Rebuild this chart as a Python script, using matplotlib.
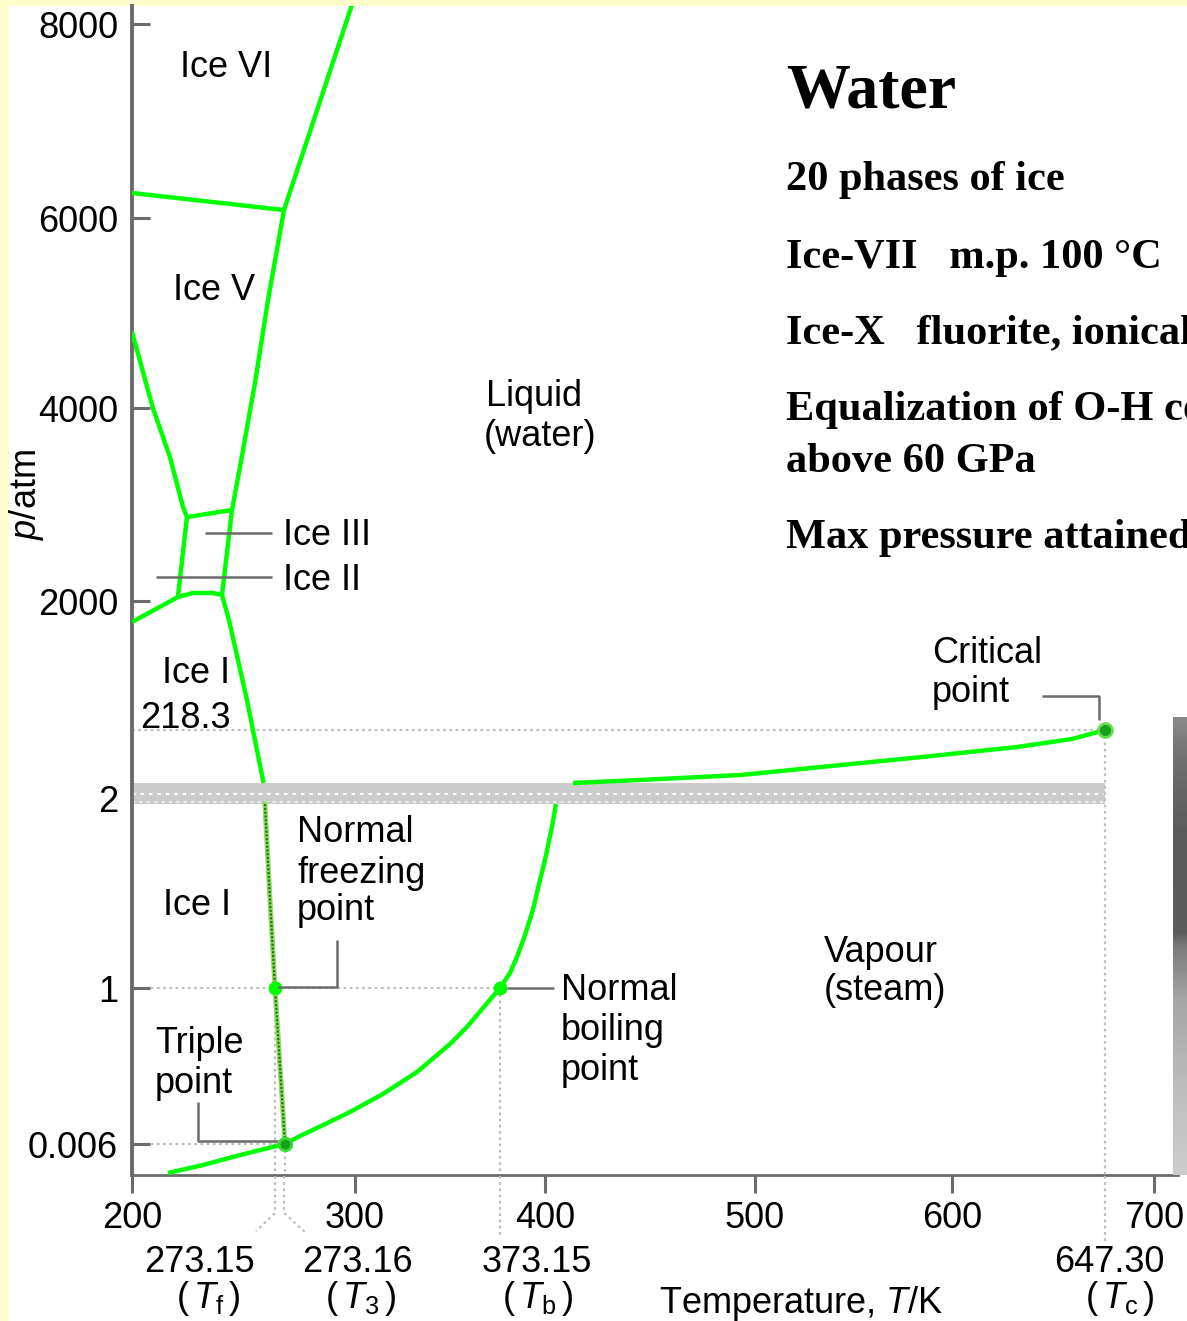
import numpy as np
import matplotlib
matplotlib.use("Agg")
import matplotlib.pyplot as plt
import matplotlib.transforms as mtransforms
from matplotlib.lines import Line2D
from matplotlib.patches import Rectangle
from matplotlib.colors import LinearSegmentedColormap

W, H, DPI = 1187, 1321, 100

plt.rcParams['font.family'] = ['Liberation Sans', 'DejaVu Sans']
plt.rcParams['mathtext.fontset'] = 'custom'
plt.rcParams['mathtext.rm'] = 'Liberation Sans'
plt.rcParams['mathtext.it'] = 'Liberation Sans:italic'
plt.rcParams['mathtext.bf'] = 'Liberation Sans:bold'

# ---------------------------------------------------------------------------
# Schematic (not-to-scale) axes: anchor values and where they sit on the page
# ---------------------------------------------------------------------------
T_ANCHOR = [150, 200, 273.15, 273.16, 300, 373.15, 400, 500, 600, 647.30, 700, 750]
T_PIXEL = [30, 132, 275, 285, 355, 500, 545, 755, 952, 1105, 1154, 1256]
P_ANCHOR = [0, 0.006, 1, 2, 218.3, 2000, 4000, 6000, 8000, 8400]
P_PIXEL = [1175, 1144, 988, 798, 730, 601, 408, 218, 24, -15]

X_TICKS = [200, 300, 400, 500, 600, 700]
X_TICK_LABELS = ['200', '300', '400', '500', '600', '700']
P_TICKS = [0.006, 1, 2, 2000, 4000, 6000, 8000]
P_TICK_LABELS = ['0.006', '1', '2', '2000', '4000', '6000', '8000']

# Axis break (grey band) between the low- and high-pressure parts
BREAK_LO, BREAK_HI = 1.968, 49.7

# ---------------------------------------------------------------------------
# Special points (T / K, p / atm)
# ---------------------------------------------------------------------------
T_FREEZE, P_FREEZE = 273.15, 1.0
T_TRIPLE, P_TRIPLE = 273.16, 0.006
T_BOIL, P_BOIL = 373.15, 1.0
T_CRIT, P_CRIT = 647.30, 218.3

# ---------------------------------------------------------------------------
# Phase boundaries
# ---------------------------------------------------------------------------
# solid / vapour
sub_T = [218.4, 236.0, 251.7, 263.0, 273.16]
sub_p = [0.0004, 0.0019, 0.0035, 0.0046, 0.006]
# liquid / vapour, below the break
vap_low_T = [273.16, 278.91, 285.43, 298.08, 314.13, 331.28, 347.93, 356.5,
             364.58, 373.15, 379.1, 383.3, 388.1, 392.8, 397.0, 400.0, 403.3, 405.2]
vap_low_p = [0.006, 0.057, 0.108, 0.210, 0.325, 0.465, 0.643, 0.752,
             0.873, 1.0, 1.079, 1.163, 1.279, 1.411, 1.568, 1.674, 1.847, 1.968]
# liquid / vapour, above the break
vap_high_T = [413.3, 445.2, 493.3, 538.6, 584.8, 620.1, 637.1, 647.30]
vap_high_p = [49.7, 59.3, 75.2, 103.8, 132.4, 164.2, 189.7, 218.3]
# ice I / liquid, below the break
melt_low_T = [268.0, 270.6, 273.15, 273.16]
melt_low_p = [1.968, 1.463, 1.0, 0.006]
# ice I / liquid, above the break
melt_high_T = [246.04, 249.6, 258.8, 267.3]
melt_high_p = [2062, 1738, 633, 49.7]
# ice III / liquid
ice3_liq_T = [246.04, 251.15]
ice3_liq_p = [2062, 2943]
# ice V / liquid
ice5_liq_T = [251.15, 255.25, 262.9, 269.6, 273.159]
ice5_liq_p = [2943, 3389, 4263, 5137, 6082]
# ice VI / liquid
ice6_liq_T = [273.159, 299.5]
ice6_liq_p = [6082, 8250]
# ice V / ice VI
ice5_ice6_T = [200, 273.159]
ice5_ice6_p = [6258, 6082]
# ice I / ice II
ice1_ice2_T = [200, 223.5]
ice1_ice2_p = [1710, 2041]
# ice I / ice III
ice1_ice3_T = [223.5, 231.2, 241.4, 246.04]
ice1_ice3_p = [2041, 2083, 2083, 2062]
# ice II / ice III
ice2_ice3_T = [223.5, 228.1]
ice2_ice3_p = [2041, 2870]
# ice III / ice V
ice3_ice5_T = [228.1, 251.15]
ice3_ice5_p = [2870, 2943]
# ice II / ice V
ice2_ice5_T = [228.1, 226.1, 219.4, 210.7, 200]
ice2_ice5_p = [2870, 2974, 3492, 4000, 4800]

GREEN = '#00ff00'
AXIS_GREY = '#6b6b6b'
DOT_GREY = '#bdbdbd'
DOTTED = (0, (1.2, 1.6))

# ---------------------------------------------------------------------------
fig = plt.figure(figsize=(W / DPI, H / DPI), dpi=DPI, facecolor='#ffffcc')
fig.add_artist(Rectangle((9 / W, 0), 1 - 9 / W, 1 - 6 / H, transform=fig.transFigure,
                         facecolor='white', edgecolor='none', zorder=0))

# page-pixel transform for annotations
PX = mtransforms.Affine2D().scale(1 / W, -1 / H).translate(0, 1) + fig.transFigure

ax = fig.add_axes([132 / W, 1 - 1175 / H, (1178 - 132) / W, (1175 - 6) / H])
ax.set_facecolor('none')

t_pix = np.array(T_PIXEL, dtype=float)
p_pix = -np.array(P_PIXEL, dtype=float)


def t_fwd(t):
    return np.interp(t, T_ANCHOR, t_pix)


def t_inv(x):
    return np.interp(x, t_pix, T_ANCHOR)


def p_fwd(p):
    return np.interp(p, P_ANCHOR, p_pix)


def p_inv(y):
    return np.interp(y, p_pix, P_ANCHOR)


ax.set_xscale('function', functions=(t_fwd, t_inv))
ax.set_yscale('function', functions=(p_fwd, p_inv))
ax.set_xlim(200, float(t_inv(1178)))
ax.set_ylim(0, float(p_inv(-6)))

for s in ('top', 'right'):
    ax.spines[s].set_visible(False)
ax.spines['left'].set_color(AXIS_GREY)
ax.spines['left'].set_linewidth(2.8)
ax.spines['bottom'].set_color(AXIS_GREY)
ax.spines['bottom'].set_linewidth(2.0)

ax.set_xticks(X_TICKS)
ax.set_xticklabels(X_TICK_LABELS)
ax.set_yticks(P_TICKS)
ax.set_yticklabels(P_TICK_LABELS)
ax.minorticks_off()
ax.tick_params(axis='y', direction='in', length=13, width=2.2, color=AXIS_GREY,
               pad=10, labelsize=26)
ax.tick_params(axis='x', direction='out', length=13, width=2.2, color=AXIS_GREY,
               pad=6, labelsize=26)

# axis break band
ax.fill_between([200, T_CRIT], BREAK_LO, BREAK_HI, color='#cccccc', lw=0, zorder=2)
ax.plot([200, T_CRIT], [14.7, 14.7], color='white', lw=1.6, ls=(0, (1.6, 2.2)), zorder=2.5)
ax.plot([200, T_CRIT], [1.98, 1.98], color='#eeeeee', lw=1.4, ls=(0, (1.6, 2.2)), zorder=2.5)

# dotted guides from special points to the axes
dot_kw = dict(color=DOT_GREY, lw=1.6, ls=DOTTED, zorder=1.5)
ax.plot([200, T_CRIT], [P_CRIT, P_CRIT], **dot_kw)
ax.plot([200, T_BOIL], [P_BOIL, P_BOIL], **dot_kw)
ax.plot([200, T_TRIPLE], [P_TRIPLE, P_TRIPLE], **dot_kw)
ax.plot([T_FREEZE, T_FREEZE], [P_FREEZE, 0], **dot_kw)
ax.plot([T_TRIPLE, T_TRIPLE], [P_TRIPLE, 0], **dot_kw)
ax.plot([T_BOIL, T_BOIL], [P_BOIL, 0], **dot_kw)
ax.plot([T_CRIT, T_CRIT], [P_CRIT, 0], color=DOT_GREY, lw=1.6, ls=DOTTED, zorder=3)

# phase boundaries
line_kw = dict(color=GREEN, lw=3.2, solid_capstyle='butt', solid_joinstyle='round', zorder=4)
for T, p in [(sub_T, sub_p), (vap_low_T, vap_low_p), (vap_high_T, vap_high_p),
             (melt_high_T, melt_high_p), (ice3_liq_T, ice3_liq_p),
             (ice5_liq_T, ice5_liq_p), (ice6_liq_T, ice6_liq_p),
             (ice5_ice6_T, ice5_ice6_p), (ice1_ice2_T, ice1_ice2_p),
             (ice1_ice3_T, ice1_ice3_p), (ice2_ice3_T, ice2_ice3_p),
             (ice3_ice5_T, ice3_ice5_p), (ice2_ice5_T, ice2_ice5_p)]:
    ax.plot(T, p, **line_kw)

ax.plot(melt_low_T, melt_low_p, color='#9bd36b', lw=3.6, zorder=4)
ax.plot(melt_low_T, melt_low_p, color='#008c00', lw=1.6, ls=(0, (1.0, 0.7)), zorder=4.5)

# special points
ax.plot([T_FREEZE], [P_FREEZE], 'o', ms=9, mfc=GREEN, mec=GREEN, zorder=6)
ax.plot([T_BOIL], [P_BOIL], 'o', ms=9, mfc=GREEN, mec=GREEN, zorder=6)
ax.plot([T_TRIPLE], [P_TRIPLE], 'o', ms=9, mfc='#1a9f1a', mec='#33dd33', mew=2, zorder=6)
ax.plot([T_CRIT], [P_CRIT], 'o', ms=10, mfc='#1a9f1a', mec='#66dd55', mew=2, zorder=6)

# ---------------------------------------------------------------------------
# Annotations
# ---------------------------------------------------------------------------
def txt(x, y, s, ha='left', size=26, **kw):
    fig.text(x, y, s, transform=PX, ha=ha, va='baseline', fontsize=size, color='black', **kw)


def lead(xs, ys, **kw):
    style = dict(color=AXIS_GREY, lw=1.8, solid_capstyle='butt')
    style.update(kw)
    fig.add_artist(Line2D(xs, ys, transform=PX, **style))


txt(226, 77, 'Ice VI', ha='center')
txt(214, 300, 'Ice V', ha='center')
txt(486, 406, 'Liquid')
txt(484, 446, '(water)')
txt(283, 545, 'Ice III')
txt(283, 590, 'Ice II')
lead([205, 272], [533, 533])
lead([156, 272], [577, 577])
txt(196, 683, 'Ice I', ha='center')
txt(185, 728, '218.3', ha='center')
txt(297, 842, 'Normal')
txt(297, 883, 'freezing')
txt(297, 920, 'point')
lead([278, 337, 337], [987, 987, 940])
txt(197, 915, 'Ice I', ha='center')
txt(155, 1053, 'Triple')
txt(155, 1093, 'point')
lead([198, 198, 278], [1102, 1141, 1141])
txt(561, 1000, 'Normal')
txt(561, 1040, 'boiling')
txt(561, 1080, 'point')
lead([507, 554], [988, 988])
txt(824, 962, 'Vapour')
txt(824, 1000, '(steam)')
txt(932, 663, 'Critical')
txt(932, 702, 'point')
lead([1042, 1099, 1099], [696, 696, 720])

# dotted guides below the axis to the special-temperature labels
below_kw = dict(color=DOT_GREY, lw=1.6, ls=DOTTED)
lead([275, 275, 256], [1176, 1213, 1231], **below_kw)
lead([284, 284, 306], [1176, 1213, 1233], **below_kw)
lead([500, 500], [1176, 1236], **below_kw)
lead([1105, 1105], [1176, 1244], **below_kw)

txt(199, 1272, '273.15', ha='center')
txt(357, 1272, '273.16', ha='center')
txt(537, 1272, '373.15', ha='center')
txt(1109, 1272, '647.30', ha='center')
txt(208, 1308, r'($\,\mathit{T}_\mathrm{f}\,$)', ha='center')
txt(361, 1308, r'($\,\mathit{T}_\mathrm{3}\,$)', ha='center')
txt(538, 1308, r'($\,\mathit{T}_\mathrm{b}\,$)', ha='center')
txt(1120, 1308, r'($\,\mathit{T}_\mathrm{c}\,$)', ha='center')
txt(801, 1313, r'Temperature, $\mathit{T}$/K', ha='center')
fig.text(27, 495, r'$\mathit{p}$/atm', transform=PX, ha='center', va='center',
         rotation=90, fontsize=26)

# Notes beside the diagram
serif = dict(family='Liberation Serif', weight='bold')
txt(786, 108, 'Water', size=46, **serif)
txt(786, 190, '20 phases of ice', size=30.5, **serif)
txt(786, 268, 'Ice-VII   m.p. 100 \u00b0C', size=30.5, **serif)
txt(786, 343, 'Ice-X   fluorite, ionical', size=30.5, **serif)
txt(786, 420, 'Equalization of O-H co', size=30.5, **serif)
txt(786, 472, 'above 60 GPa', size=30.5, **serif)
txt(786, 548, 'Max pressure attained', size=30.5, **serif)

# shaded strip at the right edge
gax = fig.add_axes([1173 / W, 1 - 1175 / H, 16 / W, (1175 - 717) / H])
shade = LinearSegmentedColormap.from_list('shade', [
    (0.0, '#cccccc'), (0.164, '#c0c0c0'), (0.382, '#a6a6a6'), (0.5, '#7a7a7a'),
    (0.528, '#5e5e5e'), (0.747, '#5a5a5a'), (0.9, '#6e6e6e'), (1.0, '#8a8a8a')])
gax.imshow(np.linspace(0, 1, 256)[:, None], cmap=shade, aspect='auto', origin='lower')
gax.set_axis_off()

fig.savefig('out.png', dpi=DPI, facecolor=fig.get_facecolor())
